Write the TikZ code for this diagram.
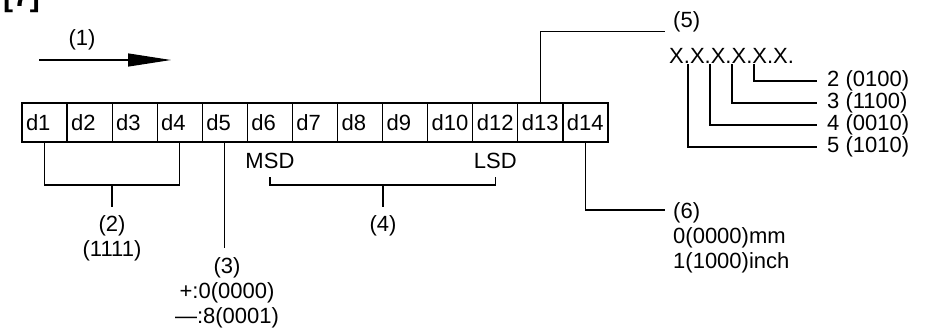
\documentclass[tikz,border=0pt]{standalone}
\usepackage{fontspec}
\setmainfont{Liberation Sans}
\usetikzlibrary{arrows.meta}
\tikzset{
    cell/.style={draw,line width=1.2pt,minimum height=39pt,text width=37.08pt,
        inner xsep=4pt,inner ysep=0pt,align=left},
    lbl/.style={inner sep=0pt,font=\fontsize{22}{25}\selectfont},
    lead/.style={line width=1.2pt},
}
\begin{document}
\begin{tikzpicture}[x=1pt,y=-1pt,every node/.style={font=\fontsize{22}{25}\selectfont}]
    \useasboundingbox (0,0) rectangle (928,327);
    \node[lbl,anchor=base west,font=\bfseries\fontsize{30}{32}\selectfont] (num) at (3,6) {[7]};
    % direction
    \node[lbl] (t1) at (82,40) {(1)};
    \coordinate (a1) at (39,60);
    \coordinate (a2) at (171,60);
    \draw[lead,-{Triangle[length=43pt,width=13pt]}] (a1) -- (a2);
    % digits
    \foreach \lbl [count=\i from 0] in {d1,d2,d3,d4,d5,d6,d7,d8,d9,d10,d12,d13,d14}
        \node[cell,font=\fontsize{22}{25}\selectfont] (\lbl) at (22+\i*45.08+22.54,122.5) {\lbl};
    % (2)
    \coordinate (b2) at (112,185);
    \draw[lead] (d1.south) |- (b2) -| (d4.south);
    \node[lbl,align=center,anchor=north] (t2) at (112,215) {(2)\\(1111)};
    \draw[lead,shorten >=8pt] (b2) -- (t2.north);
    % (3)
    \node[lbl,align=center,anchor=north] (t3) at (227,257) {(3)\\+:0(0000)\\—:8(0001)};
    \draw[lead,shorten >=9pt] (d5.south) -- (d5.south |- t3.north);
    % (4)
    \node[lbl,anchor=base] (msd) at (d6.south |- 0,168) {MSD};
    \node[lbl,anchor=base] (lsd) at (d12.south |- 0,168) {LSD};
    \coordinate (b4) at (383,185);
    \draw[lead,shorten <=9pt] (msd.south) |- (b4);
    \draw[lead,shorten >=9pt] (b4) -| (lsd.south);
    \node[lbl,anchor=north] (t4) at (383,215) {(4)};
    \draw[lead,shorten >=8pt] (b4) -- (t4.north);
    % (5)
    \node[lbl,anchor=base west] (t5) at (673,27) {(5)};
    \draw[lead,shorten >=8pt] (d13.north) |- (t5.south west);
    \node[lbl,anchor=base west] (xs) at (669,63) {X.X.X.X.X.X.};
    \coordinate (p1) at (688,64);
    \coordinate (p2) at (710,64);
    \coordinate (p3) at (732,64);
    \coordinate (p4) at (754,64);
    \node[lbl,anchor=west] (v2) at (827,81) {2 (0100)};
    \node[lbl,anchor=west] (v3) at (827,103) {3 (1100)};
    \node[lbl,anchor=west] (v4) at (827,125) {4 (0010)};
    \node[lbl,anchor=west] (v5) at (827,147) {5 (1010)};
    \draw[lead,shorten >=10pt] (p4) |- (v2.west);
    \draw[lead,shorten >=10pt] (p3) |- (v3.west);
    \draw[lead,shorten >=10pt] (p2) |- (v4.west);
    \draw[lead,shorten >=10pt] (p1) |- (v5.west);
    % (6)
    \node[lbl,align=left,anchor=north west] (t6) at (673,202) {(6)\\0(0000)mm\\1(1000)inch};
    \coordinate (c6) at (665,210);
    \draw[lead] (d14.south) |- (c6);
\end{tikzpicture}
\end{document}
